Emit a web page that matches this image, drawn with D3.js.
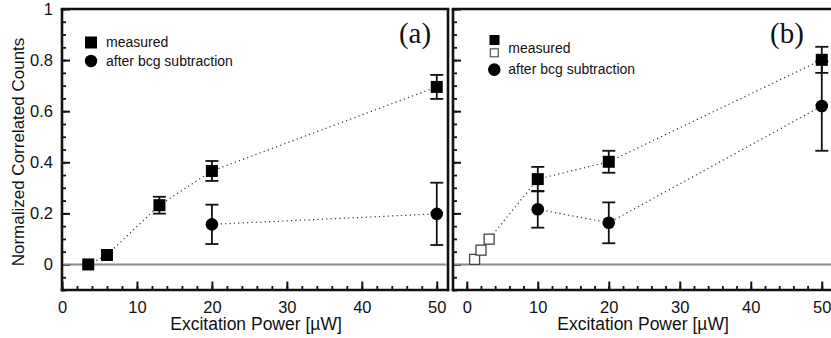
<!DOCTYPE html>
<html><head><meta charset="utf-8">
<script src="https://cdn.jsdelivr.net/npm/d3@7"></script>
<style>
html,body{margin:0;padding:0;background:#fff;}
svg{display:block;}
text{font-family:"Liberation Sans",Arial,sans-serif;fill:#111;}
</style></head>
<body>
<svg id="chart" width="831" height="338"></svg>
<script>
// ---- data ----
const xTicks = [0, 10, 20, 30, 40, 50];
const yTicks = [0, 0.2, 0.4, 0.6, 0.8, 1];
const yTickLabels = ["0", "0.2", "0.4", "0.6", "0.8", "1"];

// panel (a)
const aMeasX = [3.5, 6, 13, 20, 50];
const aMeasY = [0.0, 0.037, 0.232, 0.366, 0.695];
const aMeasErr = [0, 0, 0.033, 0.039, 0.047];
const aSubX = [20, 50];
const aSubY = [0.157, 0.198];
const aSubErr = [0.077, 0.122];

// panel (b)
const bOpenX = [1.1, 2.0, 3.15];
const bOpenY = [0.02, 0.056, 0.099];
const bMeasX = [10, 20, 50];
const bMeasY = [0.334, 0.402, 0.801];
const bMeasErr = [0.048, 0.043, 0.051];
const bSubX = [10, 20, 50];
const bSubY = [0.216, 0.163, 0.62];
const bSubErr = [0.072, 0.08, 0.175];

const legendLabels = ["measured", "after bcg subtraction"];
const xLabel = "Excitation Power [\u00B5W]";
const yLabel = "Normalized Correlated Counts";

// ---- layout ----
const svg = d3.select("#chart");
const yTop = 9, yBot = 290;
const y = d3.scaleLinear().domain([-0.1, 1.0]).range([yBot, yTop]);
const FONT = '"Liberation Sans",Arial,sans-serif';

const panels = [
  {left: 62, right: 448, domain: [0, 51.5], label: "(a)", labelX: 415, rightFrame: true},
  {left: 453, right: 833, domain: [-1.94, 51.58], label: "(b)", labelX: 787, rightFrame: false}
];
panels.forEach(p => {
  p.x = d3.scaleLinear().domain(p.domain).range([p.left, p.right]);
});

function drawFrameAndAxes(p, showYLabels) {
  const g = svg.append("g");
  const x = p.x;
  const yMinor = d3.range(-0.1, 1.0001, 0.05).map(v => +v.toFixed(2));
  g.append("g").attr("transform", `translate(${p.left},0)`)
    .call(d3.axisLeft(y).tickValues(yMinor).tickSize(-4).tickFormat(""))
    .call(s => s.select(".domain").remove())
    .call(s => s.selectAll("line").attr("stroke", "#111").attr("stroke-width", 1.8));
  const ya = g.append("g").attr("transform", `translate(${p.left},0)`)
    .call(d3.axisLeft(y).tickValues(yTicks).tickSize(-8).tickPadding(9)
      .tickFormat((d, i) => showYLabels ? yTickLabels[i] : ""))
    .call(s => s.select(".domain").remove())
    .call(s => s.selectAll("line").attr("stroke", "#111").attr("stroke-width", 2));
  ya.selectAll("text").style("font-size", "16.5px").style("font-family", FONT).attr("fill", "#111");

  const xMinor = d3.range(0, 52, 2).filter(v => v >= p.domain[0] && v <= p.domain[1]);
  g.append("g").attr("transform", `translate(0,${yBot})`)
    .call(d3.axisBottom(x).tickValues(xMinor).tickSize(-4).tickFormat(""))
    .call(s => s.select(".domain").remove())
    .call(s => s.selectAll("line").attr("stroke", "#111").attr("stroke-width", 1.8));
  const xa = g.append("g").attr("transform", `translate(0,${yBot})`)
    .call(d3.axisBottom(x).tickValues(xTicks).tickSize(-8.5).tickPadding(11).tickFormat(d3.format("d")))
    .call(s => s.select(".domain").remove())
    .call(s => s.selectAll("line").attr("stroke", "#111").attr("stroke-width", 2));
  xa.selectAll("text").style("font-size", "16.5px").style("font-family", FONT).attr("fill", "#111");

  const fr = g.append("g").attr("fill", "none").attr("stroke", "#111").attr("stroke-width", 2.6);
  fr.append("line").attr("x1", p.left).attr("x2", p.left).attr("y1", yTop).attr("y2", yBot + 1.3);
  fr.append("line").attr("x1", p.left - 1.3).attr("x2", p.right + 1.3).attr("y1", yTop).attr("y2", yTop);
  fr.append("line").attr("x1", p.left - 1.3).attr("x2", p.right + 1.3).attr("y1", yBot).attr("y2", yBot);
  if (p.rightFrame) fr.append("line").attr("x1", p.right).attr("x2", p.right).attr("y1", yTop).attr("y2", yBot + 1.3);

  g.append("line").attr("x1", p.left + 1.3).attr("x2", p.rightFrame ? p.right - 1.3 : p.right)
    .attr("y1", y(0)).attr("y2", y(0)).attr("stroke", "#888").attr("stroke-width", 2);

  g.append("text").attr("x", p.labelX).attr("y", 43).attr("text-anchor", "middle")
    .style("font-family", '"Liberation Serif","Times New Roman",serif').style("font-size", "29px")
    .text(p.label);

  g.append("text").attr("x", (p.left + Math.min(p.right, 831)) / 2 + 1).attr("y", 330)
    .attr("text-anchor", "middle").style("font-size", "17.5px").text(xLabel);
  return g;
}

function dotted(g, x, xs, ys) {
  const line = d3.line().x(d => x(d[0])).y(d => y(d[1]));
  g.append("path").datum(xs.map((v, i) => [v, ys[i]]))
    .attr("d", line).attr("fill", "none").attr("stroke", "#333")
    .attr("stroke-width", 1.2).attr("stroke-dasharray", "1.2,3.2");
}
function errorBars(g, x, xs, ys, es) {
  xs.forEach((v, i) => {
    if (!es[i]) return;
    const cx = x(v), y1 = y(ys[i] - es[i]), y2 = y(ys[i] + es[i]);
    g.append("line").attr("x1", cx).attr("x2", cx).attr("y1", y1).attr("y2", y2)
      .attr("stroke", "#111").attr("stroke-width", 1.8);
    [y1, y2].forEach(yy => g.append("line").attr("x1", cx - 6.5).attr("x2", cx + 6.5)
      .attr("y1", yy).attr("y2", yy).attr("stroke", "#111").attr("stroke-width", 1.8));
  });
}
function squares(g, x, xs, ys, size, filled) {
  g.selectAll(null).data(xs.map((v, i) => [v, ys[i]])).enter().append("rect")
    .attr("x", d => x(d[0]) - size / 2).attr("y", d => y(d[1]) - size / 2)
    .attr("width", size).attr("height", size)
    .attr("fill", filled ? "#000" : "#fff")
    .attr("stroke", filled ? "none" : "#444").attr("stroke-width", filled ? 0 : 1.3);
}
function circles(g, x, xs, ys, r) {
  g.selectAll(null).data(xs.map((v, i) => [v, ys[i]])).enter().append("circle")
    .attr("cx", d => x(d[0])).attr("cy", d => y(d[1])).attr("r", r).attr("fill", "#000");
}

// ---- panel (a) ----
const pa = panels[0];
const ga = drawFrameAndAxes(pa, true);
dotted(ga, pa.x, aMeasX, aMeasY);
dotted(ga, pa.x, aSubX, aSubY);
errorBars(ga, pa.x, aMeasX, aMeasY, aMeasErr);
errorBars(ga, pa.x, aSubX, aSubY, aSubErr);
squares(ga, pa.x, aMeasX, aMeasY, 12, true);
circles(ga, pa.x, aSubX, aSubY, 6.3);

ga.append("rect").attr("x", 85).attr("y", 36.5).attr("width", 12).attr("height", 12).attr("fill", "#000");
ga.append("circle").attr("cx", 91).attr("cy", 61).attr("r", 6.2).attr("fill", "#000");
ga.append("text").attr("x", 106).attr("y", 46.5).style("font-size", "14px").text(legendLabels[0]);
ga.append("text").attr("x", 106).attr("y", 65.7).style("font-size", "14px").text(legendLabels[1]);

// ---- panel (b) ----
const pb = panels[1];
const gb = drawFrameAndAxes(pb, false);
dotted(gb, pb.x, bOpenX.concat(bMeasX), bOpenY.concat(bMeasY));
dotted(gb, pb.x, bSubX, bSubY);
errorBars(gb, pb.x, bSubX, bSubY, bSubErr);
errorBars(gb, pb.x, bMeasX, bMeasY, bMeasErr);
circles(gb, pb.x, bSubX, bSubY, 6.3);
squares(gb, pb.x, bOpenX, bOpenY, 10, false);
squares(gb, pb.x, bMeasX, bMeasY, 12, true);

gb.append("rect").attr("x", 489.5).attr("y", 35).attr("width", 10).attr("height", 10).attr("fill", "#000");
gb.append("rect").attr("x", 490.3).attr("y", 48.8).attr("width", 8).attr("height", 8)
  .attr("fill", "#fff").attr("stroke", "#444").attr("stroke-width", 1.1);
gb.append("circle").attr("cx", 494.3).attr("cy", 69.6).attr("r", 6.3).attr("fill", "#000");
gb.append("text").attr("x", 508.3).attr("y", 53.3).style("font-size", "14px").text(legendLabels[0]);
gb.append("text").attr("x", 508.3).attr("y", 74).style("font-size", "14px").text(legendLabels[1]);

svg.append("text").attr("transform", "translate(24,152) rotate(-90)")
  .attr("text-anchor", "middle").style("font-size", "17px").text(yLabel);
</script>
</body></html>
